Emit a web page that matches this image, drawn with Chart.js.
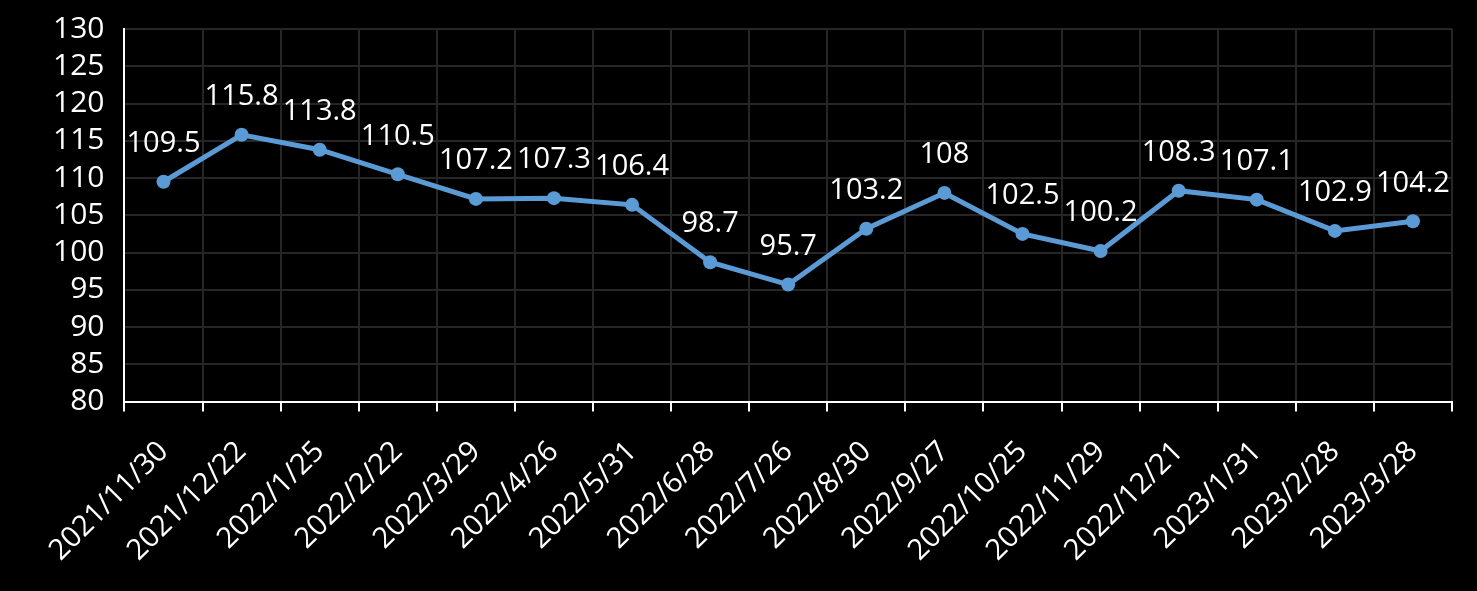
<!DOCTYPE html>
<html>
<head>
<meta charset="utf-8">
<script src="https://cdn.jsdelivr.net/npm/chart.js@4"></script>
<style>
    html, body { margin: 0; padding: 0; background: #000; }
    #wrap { width: 1477px; height: 591px; }
</style>
</head>
<body>
<div id="wrap"><canvas id="priceChart" width="1477" height="591"></canvas></div>
<script>
const dates = [
    "2021/11/30", "2021/12/22", "2022/1/25", "2022/2/22", "2022/3/29",
    "2022/4/26", "2022/5/31", "2022/6/28", "2022/7/26", "2022/8/30",
    "2022/9/27", "2022/10/25", "2022/11/29", "2022/12/21", "2023/1/31",
    "2023/2/28", "2023/3/28"
];
const indexValues = [
    109.5, 115.8, 113.8, 110.5, 107.2, 107.3, 106.4, 98.7, 95.7, 103.2,
    108, 102.5, 100.2, 108.3, 107.1, 102.9, 104.2
];
const yMin = 80;
const yMax = 130;
const yStep = 5;

const fontFamily = "'Open Sans', 'Noto Sans', sans-serif";

// 在每个点上方画数值
const pointLabels = {
    id: "pointLabels",
    afterDatasetsDraw(chart) {
        const ctx = chart.ctx;
        const meta = chart.getDatasetMeta(0);
        ctx.save();
        ctx.fillStyle = "#ffffff";
        ctx.font = "29px " + fontFamily;
        ctx.textAlign = "center";
        ctx.textBaseline = "middle";
        meta.data.forEach((pt, i) => {
            ctx.fillText(String(indexValues[i]), pt.x, pt.y - 38);
        });
        ctx.restore();
    },
};

const ctx = document.getElementById("priceChart").getContext("2d");
new Chart(ctx, {
    type: "line",
    data: {
        labels: dates,
        datasets: [
            {
                data: indexValues,
                borderColor: "#5b9bd5",
                backgroundColor: "#5b9bd5",
                borderWidth: 5,
                pointRadius: 7,
                pointHoverRadius: 7,
                pointBorderWidth: 0,
                tension: 0,
            },
        ],
    },
    options: {
        responsive: false,
        animation: false,
        layout: {
            padding: { top: 0, right: 25, left: 33, bottom: 0 },
        },
        plugins: {
            legend: { display: false },
            tooltip: { enabled: false },
        },
        scales: {
            x: {
                offset: true,
                grid: {
                    offset: true,
                    color: "#262626",
                    lineWidth: 2,
                    drawTicks: true,
                    tickLength: 10,
                    tickColor: "#ffffff",
                    tickWidth: 2,
                },
                border: { color: "#ffffff", width: 2 },
                ticks: {
                    color: "#ffffff",
                    font: { size: 29, family: fontFamily },
                    minRotation: 45,
                    maxRotation: 45,
                    autoSkip: false,
                    padding: 23,
                },
            },
            y: {
                min: yMin,
                max: yMax,
                grid: {
                    color: "#262626",
                    lineWidth: 2,
                    drawTicks: false,
                },
                border: { color: "#ffffff", width: 2 },
                ticks: {
                    stepSize: yStep,
                    autoSkip: false,
                    color: "#ffffff",
                    font: { size: 30, family: fontFamily, lineHeight: 0.6 },
                    padding: 20,
                },
            },
        },
    },
    plugins: [pointLabels],
});
</script>
</body>
</html>
